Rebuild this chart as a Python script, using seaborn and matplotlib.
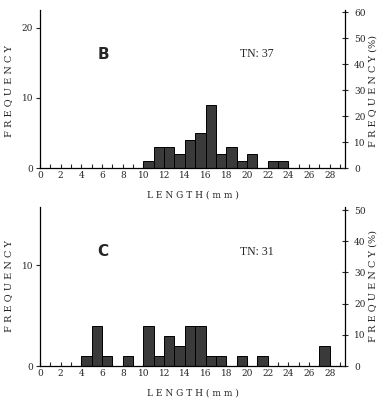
import numpy as np
import pandas as pd
import matplotlib
matplotlib.use('Agg')
import matplotlib.pyplot as plt
import seaborn as sns

# ============================================================
# Datos: conteos por clase de talla (1 mm)
# ============================================================
bin_edges = list(range(0, 31))

# Panel B (TN = 37)
b_lengths = [10, 11, 12, 13, 14, 15, 16, 17, 18, 19, 20, 22, 23]
b_counts = [1, 3, 3, 2, 4, 5, 9, 2, 3, 1, 2, 1, 1]

# Panel C (TN = 31)
c_lengths = [4, 5, 6, 8, 10, 11, 12, 13, 14, 15, 16, 17, 19, 21, 27]
c_counts = [1, 4, 1, 1, 4, 1, 3, 2, 4, 4, 1, 1, 1, 1, 2]

x_ticks = list(range(0, 30, 2))

sns.set_theme(style='white')
plt.rcParams['font.family'] = ['DejaVu Serif']

FONT_TICK = 6.5
BAR_COLOR = '#3a3a3a'


def draw_panel(fig, ax, lengths, counts, letter, y_top, left_ticks, pct_ticks,
               label_y):
    df = pd.DataFrame({'length': np.array(lengths) + 0.5, 'count': counts})
    sns.histplot(data=df, x='length', weights='count', bins=bin_edges, ax=ax,
                 color=BAR_COLOR, edgecolor='black', linewidth=0.7, alpha=1)
    total = sum(counts)

    ax.set_xlim(0, 29.5)
    ax.set_ylim(0, y_top)
    ax.set_xticks(x_ticks)
    ax.set_xticks(range(0, 30), minor=True)
    ax.set_yticks(left_ticks)
    ax.tick_params(axis='x', which='both', direction='in', length=3, width=0.8,
                   labelsize=FONT_TICK, pad=2, bottom=True)
    ax.tick_params(axis='y', direction='out', length=3, width=0.8,
                   labelsize=FONT_TICK, pad=2, left=True)
    for s in ['top', 'right']:
        ax.spines[s].set_visible(False)
    for s in ['left', 'bottom']:
        ax.spines[s].set_linewidth(0.9)
        ax.spines[s].set_color('black')

    ax.set_xlabel('L E N G T H ( m m )', fontsize=6.5, labelpad=8)
    ax.set_ylabel('')

    ax.text(6.1, y_top * 0.72, letter, fontsize=11, fontweight='bold',
            family='DejaVu Sans', ha='center', va='center')
    ax.text(21, y_top * 0.72, f'TN: {total}', fontsize=8.5,
            family='Liberation Serif', ha='center', va='center')

    # eje derecho en porcentaje
    ax2 = ax.twinx()
    ax2.set_ylim(0, y_top / total * 100)
    ax2.set_yticks(pct_ticks)
    ax2.tick_params(axis='y', direction='inout', length=5, width=0.8,
                    labelsize=FONT_TICK, pad=4, right=True)
    for s in ['top', 'left', 'bottom']:
        ax2.spines[s].set_visible(False)
    ax2.spines['right'].set_linewidth(0.9)
    ax2.spines['right'].set_color('black')
    ax2.grid(False)

    # etiquetas verticales
    fig.text(0.022, label_y, 'F R E Q U E N C Y', rotation=90, fontsize=7,
             ha='center', va='center')
    fig.text(0.978, label_y, 'F R E Q U E N C Y (%)', rotation=90, fontsize=7,
             ha='center', va='center')


fig = plt.figure(figsize=(3.81, 4.0), dpi=100)
ax_b = fig.add_axes([0.105, 0.58, 0.801, 0.395])
ax_c = fig.add_axes([0.105, 0.085, 0.801, 0.3975])

draw_panel(fig, ax_b, b_lengths, b_counts, 'B', 22.5, [0, 10, 20],
           range(0, 61, 10), 0.772)
draw_panel(fig, ax_c, c_lengths, c_counts, 'C', 15.8, [0, 10],
           range(0, 51, 10), 0.285)

fig.savefig('out.png', dpi=100)
